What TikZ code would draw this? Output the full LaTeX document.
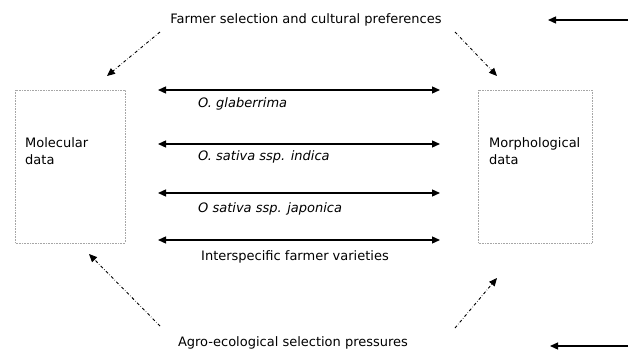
\documentclass[tikz,border=0pt]{standalone}
\usepackage{fontspec}
\setmainfont{DejaVu Sans}
\usetikzlibrary{arrows.meta}
\begin{document}
\begin{tikzpicture}[x=1pt,y=-1pt,font=\fontsize{13}{17}\selectfont,
	databox/.style={draw=gray!70,densely dotted,line width=0.6},
	link/.style={{Triangle[length=8pt,width=7pt]}-{Triangle[length=8pt,width=7pt]},line width=1.3},
	push/.style={-{Triangle[length=8pt,width=7pt]},line width=1.3},
	pressure/.style={-{Triangle[length=8pt,width=7pt]},dash dot,line width=0.9}]
		\useasboundingbox (0,0) rectangle (630,354);
		% boxes
		\draw [databox] (15,90) rectangle (125,243);
		\draw [databox] (478,90) rectangle (592,243);
		\node [anchor=north west,align=left,inner sep=0] (Mol) at (25,137) {Molecular\\data};
		\node [anchor=north west,align=left,inner sep=0] (Mor) at (489,137) {Morphological\\data};
		% selection forces
		\node (F) at (306,20) {Farmer selection and cultural preferences};
		\node (E) at (293,343) {Agro-ecological selection pressures};
		\coordinate (F1) at (628,20);
		\coordinate (F2) at (548,20);
		\coordinate (E1) at (628,346);
		\coordinate (E2) at (550,346);
		\draw [push] (F1) to (F2);
		\draw [push] (E1) to (E2);
		\coordinate (FL) at (160,32);
		\coordinate (FR) at (455,32);
		\coordinate (ML) at (107,76);
		\coordinate (MR) at (497,76);
		\coordinate (EL) at (160,326);
		\coordinate (ER) at (455,328);
		\coordinate (BL) at (89,254);
		\coordinate (BR) at (497,278);
		\draw [pressure] (FL) to (ML);
		\draw [pressure] (FR) to (MR);
		\draw [pressure] (EL) to (BL);
		\draw [pressure] (ER) to (BR);
		% rice groups
		\foreach \n/\y in {G/90,I/144,J/193,V/240}{
			\coordinate (\n1) at (158,\y);
			\coordinate (\n2) at (440,\y);
			\draw [link] (\n1) to (\n2);
		}
		\node [anchor=west,inner sep=0] (G) at (198,104) {\itshape O. glaberrima};
		\node [anchor=west,inner sep=0] (I) at (198,157) {\itshape O. sativa ssp. indica};
		\node [anchor=west,inner sep=0] (J) at (198,209) {\itshape O sativa ssp. japonica};
		\node (V) at (295,257) {Interspecific farmer varieties};
	\end{tikzpicture}
\end{document}
